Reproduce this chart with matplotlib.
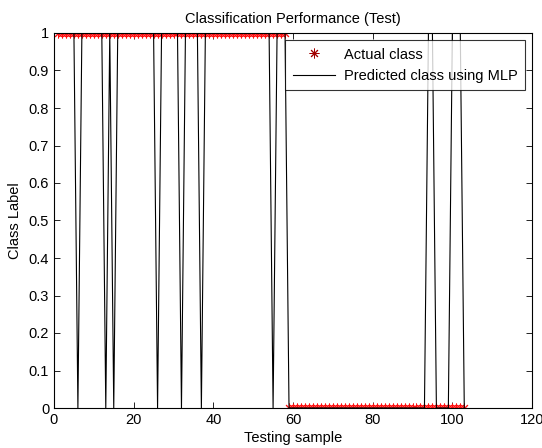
import numpy as np
import matplotlib
matplotlib.use('Agg')
from matplotlib import pyplot as plt

plt.rcParams['font.family'] = ['Liberation Sans', 'DejaVu Sans']

# testing samples 1..103
samples = np.arange(1, 104)

# actual class: 1 for first 58 samples, 0 after
actual = [1] * 58 + [0] * 45

# predicted class using MLP
predicted = [1, 1, 1, 1, 1, 0, 1, 1, 1, 1,
             1, 1, 0, 1, 0, 1, 1, 1, 1, 1,
             1, 1, 1, 1, 1, 0, 1, 1, 1, 1,
             1, 0, 1, 1, 1, 1, 0, 1, 1, 1,
             1, 1, 1, 1, 1, 1, 1, 1, 1, 1,
             1, 1, 1, 1, 0, 1, 1, 1, 0, 0,
             0, 0, 0, 0, 0, 0, 0, 0, 0, 0,
             0, 0, 0, 0, 0, 0, 0, 0, 0, 0,
             0, 0, 0, 0, 0, 0, 0, 0, 0, 0,
             0, 0, 0, 1, 1, 0, 0, 0, 0, 1,
             1, 1, 0]

fs = 10.5
fig = plt.figure(figsize=(5.42, 4.48), dpi=100)
ax = fig.add_axes([54 / 542, 40 / 448, 478 / 542, 375 / 448])

ax.plot(samples, actual, '_', color='#3030ff', markersize=4, markeredgewidth=0.8)
ax.plot(samples, actual, linestyle='none', marker=(8, 2, 0), color='#ff1010',
        markersize=7, markeredgewidth=0.7, label='Actual class')
ax.plot(samples, predicted, '-', color='black', linewidth=0.8,
        label='Predicted class using MLP')

ax.set_xlim(0, 120)
ax.set_ylim(0, 1)
ax.set_xticks(range(0, 121, 20))
ax.set_yticks(np.round(np.arange(0, 1.01, 0.1), 1))
ax.set_yticklabels(['0', '0.1', '0.2', '0.3', '0.4', '0.5', '0.6', '0.7', '0.8', '0.9', '1'])
ax.tick_params(direction='in', length=4, width=0.6, labelsize=fs, top=True, right=True)
for s in ax.spines.values():
    s.set_linewidth(0.8)

ax.set_title('Classification Performance (Test)', fontsize=fs, pad=7)
ax.set_xlabel('Testing sample', fontsize=fs, labelpad=3)
ax.set_ylabel('Class Label', fontsize=fs, labelpad=5)

leg = ax.legend(loc='upper right', fontsize=fs, frameon=True, fancybox=False,
                edgecolor='black', borderaxespad=0.5, handlelength=2.9,
                borderpad=0.5, labelspacing=0.5, handletextpad=0.6)
leg.get_frame().set_linewidth(0.8)
leg.legend_handles[0].set_color('#a00000')

fig.savefig('out.png', dpi=100)
